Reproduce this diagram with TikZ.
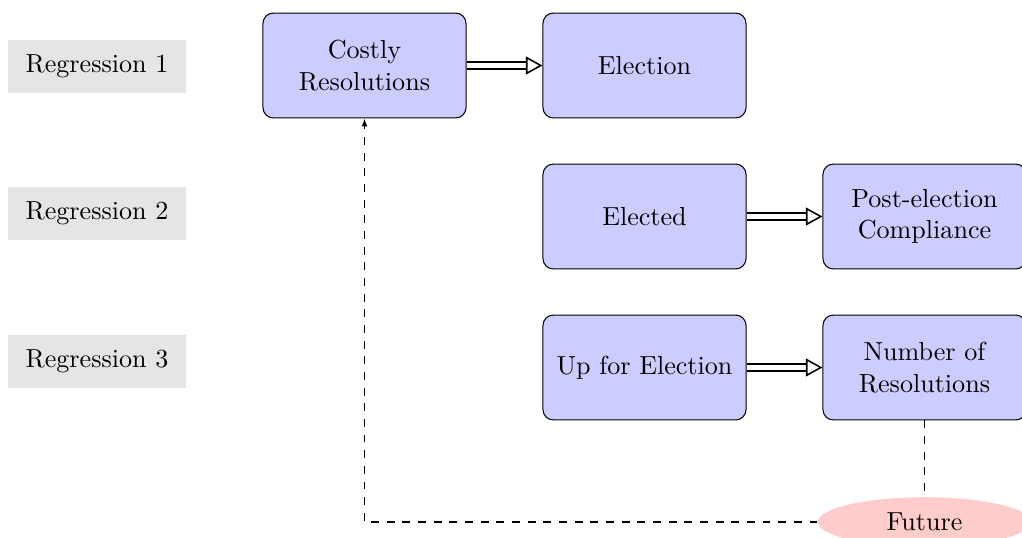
\documentclass[tikz,border=0pt]{standalone}
\usetikzlibrary{arrows.meta,shapes.geometric}
\begin{document}
\begin{tikzpicture}[x=0.3831pt,y=-0.3831pt,
  box/.style={draw, rounded corners, fill=blue!20, minimum width=77.8pt, minimum height=40.2pt, align=center, inner sep=2pt},
  reg/.style={fill=gray!20, minimum width=68.2pt, minimum height=20.3pt, inner sep=2pt},
  fut/.style={ellipse, fill=red!20, minimum width=81.6pt, minimum height=19pt, inner sep=1pt},
  dbl/.style={line width=0.6pt, double, double distance=2pt, -{Triangle[open,length=6.3pt,width=6.8pt]}},
  dsh/.style={dashed}]
\useasboundingbox (0,0) rectangle (1022,537);
\node[reg] (r1) at (97,66) {Regression 1};
\node[reg] (r2) at (97,213) {Regression 2};
\node[reg] (r3) at (97,361) {Regression 3};
\node[box] (costly) at (364.5,65.5) {Costly\\Resolutions};
\node[box] (election) at (644.5,65.5) {Election};
\node[box] (elected) at (644.5,216.5) {Elected};
\node[box] (post) at (924.5,216.5) {Post-election\\Compliance};
\node[box] (up) at (644.5,367.5) {Up for Election};
\node[box] (num) at (924.5,367.5) {Number of\\Resolutions};
\node[fut] (future) at (924.5,522) {Future};
\draw[dbl] (costly) -- (election);
\draw[dbl] (elected) -- (post);
\draw[dbl] (up) -- (num);
\draw[dsh] (num.south) -- (future.north);
\draw[dsh,-{Latex[length=3pt,width=2.2pt]}] (future.west) -| (costly.south);
\end{tikzpicture}
\end{document}
